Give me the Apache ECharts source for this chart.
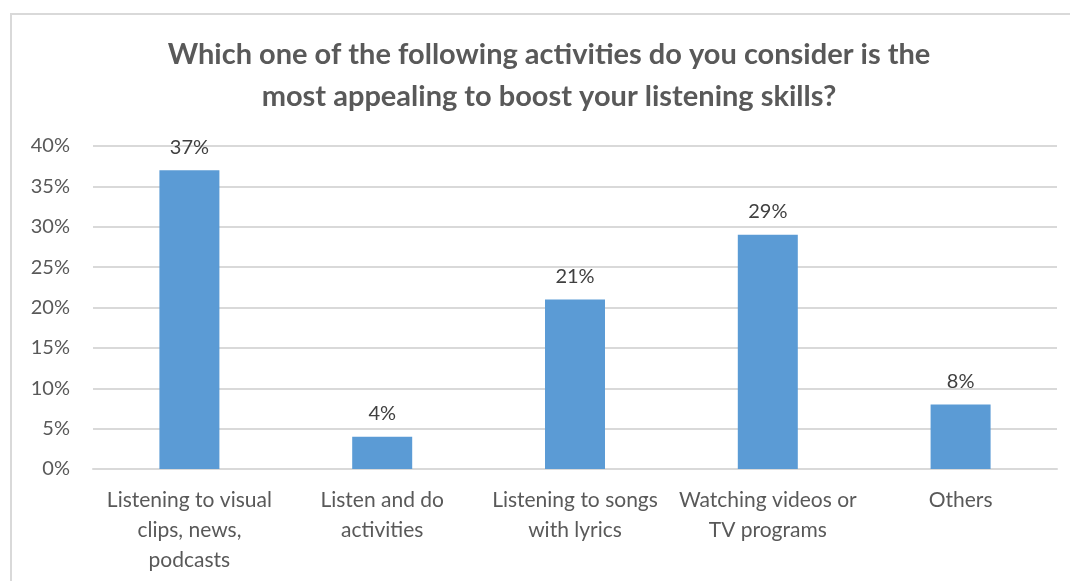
<!DOCTYPE html>
<html>
<head>
<meta charset="utf-8">
<style>
  html, body { margin: 0; padding: 0; background: #fff; }
  #chart { width: 1070px; height: 581px; }
</style>
<script src="https://cdn.jsdelivr.net/npm/echarts@6/dist/echarts.min.js"></script>
</head>
<body>
<div id="chart"></div>
<script>
// Survey answers: share of respondents per activity (%)
const categories = [
  'Listening to visual\nclips, news,\npodcasts',
  'Listen and do\nactivities',
  'Listening to songs\nwith lyrics',
  'Watching videos or\nTV programs',
  'Others'
];
const shares = [37, 4, 21, 29, 8];
const yTicks = [0, 5, 10, 15, 20, 25, 30, 35, 40];

const titleLines = [
  'Which one of the following activities do you consider is the',
  'most appealing to boost your listening skills?'
];

const FONT = 'Lato, "Open Sans", sans-serif';

const chart = echarts.init(document.getElementById('chart'), null, { renderer: 'canvas' });

chart.setOption({
  backgroundColor: '#ffffff',
  animation: false,
  graphic: [{
    type: 'rect',
    shape: { x: 11, y: 14, width: 1100, height: 620 },
    style: { fill: 'none', stroke: '#d9d9d9', lineWidth: 2 },
    silent: true,
    z: -1
  }],
  title: {
    text: titleLines.join('\n'),
    left: 549,
    top: 34,
    padding: 0,
    textAlign: 'center',
    textStyle: {
      fontFamily: FONT,
      fontSize: 29,
      fontWeight: 'bold',
      color: '#595959',
      lineHeight: 42
    }
  },
  grid: {
    left: 93,
    right: 13,
    top: 146,
    bottom: 112,
    containLabel: false
  },
  xAxis: {
    type: 'category',
    data: categories,
    axisLine: { show: true, lineStyle: { color: '#d9d9d9', width: 2 } },
    axisTick: { show: false },
    axisLabel: {
      interval: 0,
      margin: 16,
      fontFamily: FONT,
      fontSize: 21,
      lineHeight: 30,
      color: '#595959'
    }
  },
  yAxis: {
    type: 'value',
    min: yTicks[0],
    max: yTicks[yTicks.length - 1],
    interval: yTicks[1] - yTicks[0],
    axisLine: { show: false },
    axisTick: { show: false },
    splitLine: { lineStyle: { color: '#d9d9d9', width: 2 } },
    axisLabel: {
      margin: 23,
      fontFamily: FONT,
      fontSize: 20,
      color: '#595959',
      formatter: v => v + '%'
    }
  },
  series: [{
    type: 'bar',
    data: shares,
    barWidth: 60,
    itemStyle: { color: '#5b9bd5' },
    label: {
      show: true,
      position: 'top',
      distance: 13,
      fontFamily: FONT,
      fontSize: 20,
      color: '#404040',
      formatter: p => p.value + '%'
    }
  }]
});
</script>
</body>
</html>
